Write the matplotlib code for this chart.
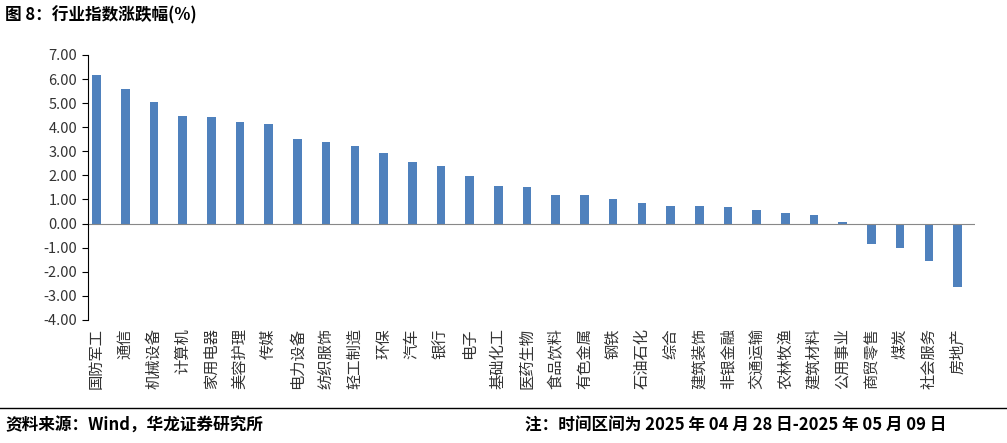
import matplotlib
matplotlib.use("Agg")
from matplotlib import pyplot as plt
from matplotlib.lines import Line2D

plt.rcParams['font.family'] = ['Noto Sans CJK SC', 'DejaVu Sans']

industries = ["国防军工", "通信", "机械设备", "计算机", "家用电器", "美容护理", "传媒",
              "电力设备", "纺织服饰", "轻工制造", "环保", "汽车", "银行", "电子",
              "基础化工", "医药生物", "食品饮料", "有色金属", "钢铁", "石油石化", "综合",
              "建筑装饰", "非银金融", "交通运输", "农林牧渔", "建筑材料", "公用事业",
              "商贸零售", "煤炭", "社会服务", "房地产"]
changes = [6.15, 5.58, 5.05, 4.45, 4.42, 4.22, 4.15, 3.50, 3.38, 3.20, 2.92, 2.57,
           2.37, 1.97, 1.57, 1.52, 1.20, 1.17, 1.00, 0.85, 0.72, 0.72, 0.68, 0.58,
           0.42, 0.35, 0.05, -0.85, -1.00, -1.55, -2.65]
yticks = [7, 6, 5, 4, 3, 2, 1, 0, -1, -2, -3, -4]

fig = plt.figure(figsize=(10.07, 4.43), dpi=100)
ax = fig.add_axes([0.087, 0.278, 0.881, 0.598])

x = range(len(industries))
ax.bar(x, changes, width=0.3, color="#4F81BD")
ax.set_ylim(-4, 7)
ax.set_xlim(-0.31, len(industries) - 0.4)
ax.set_yticks(yticks)
ax.set_yticklabels(["%.2f" % v for v in yticks], fontsize=10.5, color="#333333")
ax.tick_params(axis="y", direction="out", length=4)
ax.set_xticks([])
for s in ["top", "right", "bottom"]:
    ax.spines[s].set_visible(False)
ax.axhline(0, color="#888888", linewidth=0.8)

for i, name in enumerate(industries):
    ax.text(i, -4.35, name, rotation=90, ha="center", va="top",
            fontsize=11, color="#333333")

fig.text(0.005, 0.965, "图 8：行业指数涨跌幅(%)", fontsize=12, fontweight="bold", va="center")
fig.add_artist(Line2D([0.0, 1.0], [0.079, 0.079], color="black", linewidth=1))
fig.text(0.005, 0.04, "资料来源：Wind，华龙证券研究所", fontsize=12, fontweight="bold", va="center")
fig.text(0.94, 0.04, "注：时间区间为 2025 年 04 月 28 日-2025 年 05 月 09 日", fontsize=12,
         fontweight="bold", va="center", ha="right")

fig.savefig("out.png", dpi=100)
